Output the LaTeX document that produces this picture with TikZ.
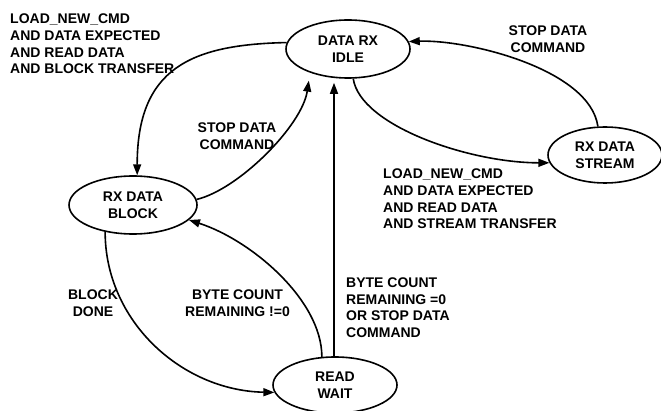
\documentclass[tikz,border=0pt]{standalone}
\usepackage{fontspec}
\setmainfont{Liberation Sans}
\usepackage{tikz}
\usetikzlibrary{shapes.geometric, arrows.meta, positioning}

\begin{document}
\begin{tikzpicture}[
  x=1pt, y=1pt,
  state/.style={draw, ellipse, line width=1.6pt, inner sep=0pt, align=center, font=\fontsize{14}{16.6}\selectfont\bfseries},
  cond/.style={inner sep=0pt, font=\fontsize{14}{16.6}\selectfont\bfseries},
  trans/.style={line width=1.6pt, -{Triangle[length=11pt, width=8pt]}},
]
  \useasboundingbox (0,0) rectangle (661,-411);
  \node[state, minimum width=124pt, minimum height=58pt] (idle) at (348,-49) {DATA RX\\IDLE};
  \node[state, minimum width=128pt, minimum height=58pt] (block) at (133,-205) {RX DATA\\BLOCK};
  \node[state, minimum width=114pt, minimum height=56pt] (stream) at (605,-155) {RX DATA\\STREAM};
  \node[state, minimum width=124pt, minimum height=56pt] (wait) at (335,-385) {READ\\WAIT};

  \draw[trans] (idle.174) .. controls +(-96,-2) and +(0,107) .. (block.82);
  \draw[trans, shorten >=8pt] (block.5) .. controls +(42,10) and +(-8,-53) .. (idle.212);
  \draw[trans] (idle.280) .. controls +(7,-47) and +(-80,0) .. (stream.188);
  \draw[trans] (stream.104) .. controls +(-8,57) and +(60,2) .. (idle.7);
  \draw[trans] (block.224) .. controls +(0,-89) and +(-93,2) .. (wait.187);
  \draw[trans] (wait.115) .. controls +(0,57) and +(62,-20) .. (block.345);
  \draw[trans, shorten >=4pt] (wait.92) -- (wait.92 |- idle.south);

  \node[cond, align=left, anchor=west] (lblblock) at (10,-44) {LOAD\_NEW\_CMD\\AND DATA EXPECTED\\AND READ DATA\\AND BLOCK TRANSFER};
  \node[cond, align=center] (lblstopa) at (237,-136) {STOP DATA\\COMMAND};
  \node[cond, align=center] (lblstopb) at (548,-39) {STOP DATA\\COMMAND};
  \node[cond, align=left, anchor=west] (lblstream) at (383,-199) {LOAD\_NEW\_CMD\\AND DATA EXPECTED\\AND READ DATA\\AND STREAM TRANSFER};
  \node[cond, align=center] (lbldone) at (93,-303) {BLOCK\\DONE};
  \node[cond, align=center] (lblmore) at (237.5,-303) {BYTE COUNT\\REMAINING !=0};
  \node[cond, align=left, anchor=west] (lblzero) at (346,-307.5) {BYTE COUNT\\REMAINING =0\\OR STOP DATA\\COMMAND};
\end{tikzpicture}
\end{document}
